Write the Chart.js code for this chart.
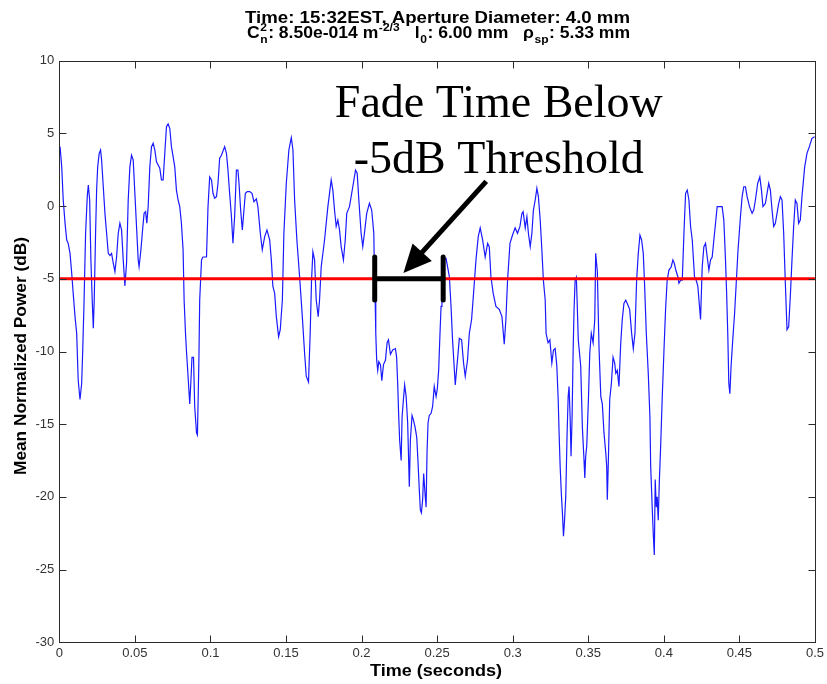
<!DOCTYPE html>
<html>
<head>
<meta charset="utf-8">
<script src="https://cdn.jsdelivr.net/npm/chart.js@4.4.0/dist/chart.umd.min.js"></script>
<style>
  html, body { margin: 0; padding: 0; background: #fff; }
  canvas { display: block; }
</style>
</head>
<body>
<canvas id="chart" width="827" height="684"></canvas>
<script>
// time axis (seconds)
const timeSec = [
  0.0005, 0.0016, 0.0026, 0.0038, 0.0049, 0.0059, 0.0071, 0.0082, 0.0092, 0.0104,
  0.0115, 0.0125, 0.0137, 0.0148, 0.0155, 0.0163, 0.0174, 0.0185, 0.0192, 0.0201,
  0.0209, 0.0218, 0.0225, 0.0231, 0.0240, 0.0247, 0.0254, 0.0264, 0.0273, 0.0280,
  0.0291, 0.0302, 0.0313, 0.0324, 0.0335, 0.0346, 0.0357, 0.0368, 0.0379, 0.0390,
  0.0401, 0.0412, 0.0423, 0.0434, 0.0445, 0.0456, 0.0467, 0.0478, 0.0489, 0.0500,
  0.0511, 0.0522, 0.0528, 0.0540, 0.0551, 0.0561, 0.0571, 0.0579, 0.0588, 0.0599,
  0.0610, 0.0621, 0.0632, 0.0643, 0.0654, 0.0665, 0.0676, 0.0687, 0.0698, 0.0709,
  0.0720, 0.0731, 0.0742, 0.0753, 0.0764, 0.0775, 0.0786, 0.0797, 0.0808, 0.0819,
  0.0826, 0.0835, 0.0841, 0.0852, 0.0863, 0.0870, 0.0878, 0.0888, 0.0896, 0.0908,
  0.0914, 0.0923, 0.0929, 0.0941, 0.0951, 0.0974, 0.0984, 0.0995, 0.1007, 0.1017,
  0.1028, 0.1040, 0.1050, 0.1061, 0.1073, 0.1094, 0.1106, 0.1116, 0.1127, 0.1139,
  0.1149, 0.1160, 0.1172, 0.1182, 0.1189, 0.1200, 0.1211, 0.1220, 0.1231, 0.1244,
  0.1260, 0.1275, 0.1288, 0.1304, 0.1314, 0.1330, 0.1343, 0.1359, 0.1374, 0.1392,
  0.1403, 0.1413, 0.1425, 0.1436, 0.1451, 0.1462, 0.1476, 0.1486, 0.1502, 0.1519,
  0.1535, 0.1546, 0.1557, 0.1572, 0.1590, 0.1608, 0.1623, 0.1634, 0.1649, 0.1660,
  0.1669, 0.1678, 0.1689, 0.1700, 0.1713, 0.1722, 0.1733, 0.1755, 0.1777, 0.1788,
  0.1799, 0.1810, 0.1821, 0.1832, 0.1843, 0.1854, 0.1865, 0.1880, 0.1892, 0.1902,
  0.1920, 0.1942, 0.1960, 0.1971, 0.1982, 0.1997, 0.2008, 0.2019, 0.2034, 0.2052,
  0.2067, 0.2081, 0.2085, 0.2090, 0.2094, 0.2100, 0.2107, 0.2114, 0.2125, 0.2134,
  0.2145, 0.2158, 0.2169, 0.2178, 0.2191, 0.2206, 0.2224, 0.2232, 0.2239, 0.2246,
  0.2252, 0.2262, 0.2268, 0.2277, 0.2285, 0.2295, 0.2305, 0.2316, 0.2323, 0.2334,
  0.2343, 0.2354, 0.2365, 0.2374, 0.2382, 0.2389, 0.2396, 0.2404, 0.2411, 0.2420,
  0.2427, 0.2433, 0.2440, 0.2448, 0.2460, 0.2470, 0.2481, 0.2493, 0.2501, 0.2510,
  0.2519, 0.2526, 0.2532, 0.2536, 0.2559, 0.2581, 0.2592, 0.2602, 0.2620, 0.2631,
  0.2647, 0.2662, 0.2675, 0.2686, 0.2701, 0.2713, 0.2728, 0.2741, 0.2757, 0.2772,
  0.2785, 0.2801, 0.2818, 0.2834, 0.2845, 0.2856, 0.2871, 0.2889, 0.2911, 0.2929,
  0.2944, 0.2955, 0.2966, 0.2982, 0.2999, 0.3016, 0.3032, 0.3048, 0.3061, 0.3069,
  0.3083, 0.3094, 0.3104, 0.3116, 0.3127, 0.3137, 0.3149, 0.3160, 0.3170, 0.3182,
  0.3193, 0.3203, 0.3215, 0.3221, 0.3234, 0.3246, 0.3259, 0.3270, 0.3281, 0.3292,
  0.3301, 0.3307, 0.3314, 0.3322, 0.3329, 0.3336, 0.3342, 0.3351, 0.3360, 0.3367,
  0.3373, 0.3380, 0.3386, 0.3393, 0.3400, 0.3406, 0.3413, 0.3421, 0.3426, 0.3434,
  0.3450, 0.3461, 0.3472, 0.3477, 0.3483, 0.3490, 0.3501, 0.3510, 0.3520, 0.3532,
  0.3543, 0.3549, 0.3560, 0.3571, 0.3583, 0.3593, 0.3604, 0.3616, 0.3622, 0.3626,
  0.3633, 0.3642, 0.3653, 0.3664, 0.3675, 0.3682, 0.3692, 0.3703, 0.3715, 0.3725,
  0.3736, 0.3748, 0.3758, 0.3774, 0.3787, 0.3798, 0.3809, 0.3820, 0.3831, 0.3842,
  0.3853, 0.3864, 0.3873, 0.3884, 0.3897, 0.3908, 0.3913, 0.3923, 0.3930, 0.3937,
  0.3943, 0.3950, 0.3956, 0.3963, 0.3970, 0.3979, 0.3989, 0.4001, 0.4012, 0.4022,
  0.4034, 0.4049, 0.4060, 0.4069, 0.4082, 0.4093, 0.4100, 0.4111, 0.4122, 0.4133,
  0.4144, 0.4155, 0.4166, 0.4177, 0.4188, 0.4203, 0.4214, 0.4225, 0.4236, 0.4243,
  0.4254, 0.4265, 0.4276, 0.4287, 0.4298, 0.4309, 0.4320, 0.4331, 0.4342, 0.4353,
  0.4369, 0.4386, 0.4397, 0.4408, 0.4415, 0.4423, 0.4430, 0.4437, 0.4445, 0.4456,
  0.4468, 0.4478, 0.4491, 0.4507, 0.4518, 0.4529, 0.4540, 0.4551, 0.4567, 0.4584,
  0.4595, 0.4606, 0.4621, 0.4635, 0.4646, 0.4656, 0.4672, 0.4683, 0.4694, 0.4705,
  0.4716, 0.4727, 0.4738, 0.4749, 0.4760, 0.4771, 0.4782, 0.4793, 0.4804, 0.4815,
  0.4826, 0.4837, 0.4848, 0.4859, 0.4870, 0.4881, 0.4892, 0.4903, 0.4914, 0.4932,
  0.4947, 0.4963, 0.4980, 0.4998
];

// mean normalized power (dB)
const powerDb = [
  4.09, 2.7, 0.42, -1.17, -2.33, -2.56, -3.25, -4.6, -6.0, -7.6,
  -8.75, -11.96, -13.3, -12.2, -9.9, -6.9, -1.87, 0.65, 1.45, 0.42,
  -3.7, -6.5, -8.4, -6.5, -1.87, 1.1, 2.7, 3.63, 3.86, 3.17,
  1.33, -0.5, -1.87, -3.25, -3.4, -3.25, -3.93, -4.5, -3.5, -1.87,
  -1.18, -1.64, -3.7, -5.5, -3.93, 0.42, 2.7, 3.5, 3.17, 0.88,
  -1.4, -3.7, -4.17, -3.0, -1.64, -0.5, -0.38, -1.18, -0.04, 2.7,
  4.09, 4.32, 3.86, 3.05, 2.83, 2.6, 1.8, 1.8, 3.63, 5.46,
  5.65, 5.35, 4.09, 3.4, 2.7, 1.1, 0.42, -0.04, -1.18, -3.0,
  -6.5, -8.75, -9.9, -11.7, -13.6, -12.2, -10.4, -10.4, -13.8, -15.6,
  -15.74, -11.0, -6.46, -3.7, -3.5, -3.5, -0.04, 2.0, 1.8, 0.88,
  0.54, 0.65, 1.57, 3.29, 3.5, 4.09, 3.63, 2.48, 0.88, -0.73,
  -2.56, -0.73, 2.48, 2.48, 1.57, -0.27, -1.64, -0.5, 0.88, 1.0,
  1.0, 0.88, 0.3, 0.5, -0.04, -1.87, -3.0, -2.1, -1.64, -2.33,
  -3.7, -5.5, -6.0, -7.6, -8.98, -8.5, -6.46, -1.87, 1.57, 3.86,
  4.7, 3.86, 0.42, -2.33, -4.86, -7.6, -10.1, -11.7, -12.1, -8.75,
  -5.1, -3.14, -3.7, -6.46, -7.6, -6.46, -4.17, -2.33, -0.04, 0.88,
  1.8, 1.1, -0.27, -1.4, -0.96, -1.64, -2.79, -3.7, -2.33, -0.5,
  -0.04, 1.33, 2.48, 2.26, 0.42, -1.87, -2.79, -1.87, -0.5, 0.19,
  -0.27, -1.87, -4.62, -6.46, -8.75, -10.6, -11.3, -10.7, -10.9, -12.0,
  -10.9, -10.6, -9.4, -9.2, -10.2, -9.9, -9.8, -10.4, -12.2, -14.5,
  -16.1, -17.5, -14.5, -13.3, -12.3, -13.1, -14.9, -19.3, -16.1, -14.4,
  -14.7, -15.2, -15.9, -17.7, -19.5, -20.9, -21.1, -20.2, -18.4, -19.8,
  -20.7, -17.0, -14.9, -14.4, -14.25, -13.8, -12.4, -13.1, -12.6, -11.3,
  -8.75, -6.9, -6.46, -3.7, -3.6, -4.86, -6.9, -9.2, -12.3, -11.0,
  -9.1, -9.2, -10.8, -11.7, -10.6, -8.75, -7.8, -6.0, -3.7, -2.1,
  -1.5, -2.33, -3.5, -2.56, -2.79, -4.86, -6.0, -6.9, -7.1, -7.6,
  -9.5, -7.8, -5.1, -2.56, -1.99, -1.5, -1.87, -1.4, -0.5, -0.38,
  -1.5, -0.73, -1.87, -2.79, -1.87, -0.27, 0.42, 1.22, 0.65, -0.96,
  -3.0, -5.1, -6.46, -8.75, -9.4, -9.2, -10.8, -9.9, -9.8, -11.0,
  -13.3, -15.6, -17.9, -19.8, -21.1, -22.7, -21.8, -20.0, -15.6, -13.1,
  -12.4, -14.5, -17.2, -14.5, -9.9, -7.1, -5.1, -4.9, -6.46, -9.2,
  -11.0, -15.2, -17.5, -18.7, -17.2, -16.5, -13.3, -10.1, -8.75, -9.4,
  -7.8, -3.25, -4.5, -9.7, -13.1, -13.6, -15.6, -17.0, -17.9, -20.2,
  -17.5, -13.3, -12.2, -10.4, -10.8, -11.5, -11.3, -12.4, -9.4, -7.8,
  -6.7, -6.46, -6.7, -7.1, -8.75, -9.8, -8.75, -5.1, -3.25, -1.99,
  -2.33, -3.25, -5.5, -8.75, -11.5, -14.5, -17.9, -20.7, -22.5, -24.0,
  -18.8, -20.7, -20.0, -21.6, -19.0, -16.5, -13.3, -9.9, -7.0, -5.1,
  -4.4, -4.17, -3.7, -3.93, -4.5, -4.86, -5.3, -5.1, -5.1, -1.87,
  0.88, 1.1, 0.42, -1.4, -2.33, -4.86, -5.1, -5.5, -6.9, -7.8,
  -4.17, -2.79, -2.56, -3.5, -4.4, -3.7, -3.5, -2.33, -1.18, -0.04,
  -0.04, -0.04, -0.96, -3.7, -5.8, -8.75, -12.2, -12.9, -11.0, -9.2,
  -7.4, -5.5, -3.0, -0.73, 0.65, 1.33, 1.33, 0.65, -0.04, -0.5,
  -0.27, 0.42, 1.57, 2.0, 1.1, -0.04, 0.19, 0.88, 1.57, 1.1,
  -0.27, -1.4, -1.18, -0.5, 0.19, 0.65, 0.42, -1.87, -5.3, -8.5,
  -8.3, -6.2, -3.7, -1.4, 0.42, 0.19, -1.18, -0.96, 0.65, 2.7,
  3.63, 4.09, 4.66, 4.77
];

const xTicks = [0, 0.05, 0.1, 0.15, 0.2, 0.25, 0.3, 0.35, 0.4, 0.45, 0.5];
const xTickLabels = ['0', '0.05', '0.1', '0.15', '0.2', '0.25', '0.3', '0.35', '0.4', '0.45', '0.5'];
const yTicks = [-30, -25, -20, -15, -10, -5, 0, 5, 10];
const yTickLabels = ['-30', '-25', '-20', '-15', '-10', '-5', '0', '5', '10'];

const threshold = -5;       // dB
const fadeStart = 0.2087;   // s
const fadeEnd = 0.2540;     // s
const arrowFrom = [0.2825, 1.7];
const arrowTo = [0.2277, -4.6];

const SANS = '"Liberation Sans", Arial, Helvetica, sans-serif';
const SERIF = '"Liberation Serif", "Times New Roman", serif';

// draw text squeezed/stretched to a given width (the matlab export uses a wide face)
function fitText(ctx, text, cx, cy, width) {
  const w = ctx.measureText(text).width;
  ctx.save();
  ctx.translate(cx, cy);
  ctx.scale(width / w, 1);
  ctx.textAlign = 'center';
  ctx.fillText(text, 0, 0);
  ctx.restore();
}

function drawRich(ctx, pieces, cx, base, target) {
  const big = 'bold 16px ' + SANS, small = 'bold 11px ' + SANS;
  const widths = pieces.map(p => {
    if (p.t) { ctx.font = big; return ctx.measureText(p.t).width; }
    ctx.font = small;
    return Math.max(p.sup ? ctx.measureText(p.sup).width : 0, p.sub ? ctx.measureText(p.sub).width : 0) + 1;
  });
  const total = widths.reduce((a, b) => a + b, 0);
  ctx.save();
  ctx.translate(cx - target / 2, base);
  ctx.scale(target / total, 1);
  ctx.textAlign = 'left';
  let px = 0;
  pieces.forEach((p, i) => {
    if (p.t) { ctx.font = big; ctx.fillText(p.t, px, 0); }
    else {
      ctx.font = small;
      if (p.sup) ctx.fillText(p.sup, px + 0.5, -7);
      if (p.sub) ctx.fillText(p.sub, px + 0.5, 5.5);
    }
    px += widths[i];
  });
  ctx.restore();
}

const matlabAxes = {
  id: 'matlabAxes',
  afterDatasetsDraw(chart) {
    const { ctx, scales: { x, y } } = chart;
    ctx.save();
    ctx.strokeStyle = '#000';
    ctx.fillStyle = '#000';
    ctx.lineWidth = 5;

    // fade bracket on the threshold line
    const x0 = x.getPixelForValue(fadeStart);
    const x1 = x.getPixelForValue(fadeEnd);
    const yT = y.getPixelForValue(threshold);
    ctx.lineCap = 'butt';
    ctx.beginPath();
    ctx.moveTo(x0, yT);
    ctx.lineTo(x1, yT);
    ctx.stroke();
    ctx.lineCap = 'round';
    [x0, x1].forEach(px => {
      ctx.beginPath();
      ctx.moveTo(px, y.getPixelForValue(threshold + 1.5));
      ctx.lineTo(px, y.getPixelForValue(threshold - 1.45));
      ctx.stroke();
    });

    // arrow
    const ax0 = x.getPixelForValue(arrowFrom[0]), ay0 = y.getPixelForValue(arrowFrom[1]);
    const ax1 = x.getPixelForValue(arrowTo[0]), ay1 = y.getPixelForValue(arrowTo[1]);
    const ang = Math.atan2(ay1 - ay0, ax1 - ax0);
    const headLen = 28, headW = 13;
    const bx = ax1 - headLen * Math.cos(ang), by = ay1 - headLen * Math.sin(ang);
    ctx.lineCap = 'butt';
    ctx.beginPath();
    ctx.moveTo(ax0, ay0);
    ctx.lineTo(bx + 2 * Math.cos(ang), by + 2 * Math.sin(ang));
    ctx.stroke();
    ctx.beginPath();
    ctx.moveTo(ax1, ay1);
    ctx.lineTo(bx + headW * Math.sin(ang), by - headW * Math.cos(ang));
    ctx.lineTo(bx - headW * Math.sin(ang), by + headW * Math.cos(ang));
    ctx.closePath();
    ctx.fill();
    ctx.restore();
  },
  afterDraw(chart) {
    const { ctx, scales: { x, y } } = chart;
    const L = Math.round(x.left) + 0.5, R = Math.round(x.right) + 0.5;
    const T = Math.round(y.top) + 0.5, B = Math.round(y.bottom) + 0.5;
    ctx.save();

    // box + inward ticks
    ctx.strokeStyle = '#2b2b2b';
    ctx.lineWidth = 1;
    ctx.strokeRect(L, T, R - L, B - T);
    const tl = 7;
    ctx.beginPath();
    xTicks.forEach(v => {
      const px = Math.round(x.getPixelForValue(v)) + 0.5;
      ctx.moveTo(px, B); ctx.lineTo(px, B - tl);
      ctx.moveTo(px, T); ctx.lineTo(px, T + tl);
    });
    yTicks.forEach(v => {
      const py = Math.round(y.getPixelForValue(v)) + 0.5;
      ctx.moveTo(L, py); ctx.lineTo(L + tl, py);
      ctx.moveTo(R, py); ctx.lineTo(R - tl, py);
    });
    ctx.stroke();

    // annotation text
    ctx.fillStyle = '#000';
    ctx.textAlign = 'center';
    ctx.textBaseline = 'alphabetic';
    ctx.font = '46px ' + SERIF;
    const tx = x.getPixelForValue(0.2908);
    ctx.fillText('Fade Time Below', tx, y.getPixelForValue(6.13));
    ctx.fillText('-5dB Threshold', tx, y.getPixelForValue(2.28));

    // axis titles
    ctx.font = 'bold 16px ' + SANS;
    ctx.textBaseline = 'middle';
    fitText(ctx, 'Time (seconds)', 436, 672, 132);
    ctx.save();
    ctx.translate(21.5, 356);
    ctx.rotate(-Math.PI / 2);
    fitText(ctx, 'Mean Normalized Power (dB)', 0, 0, 238);
    ctx.restore();

    // two-line title
    ctx.textBaseline = 'alphabetic';
    ctx.font = 'bold 16px ' + SANS;
    fitText(ctx, 'Time: 15:32EST, Aperture Diameter: 4.0 mm', 437.5, 22.7, 385);
    drawRich(ctx, [
      { t: 'C' },
      { sup: '2', sub: 'n' },
      { t: ': 8.50e-014 m' },
      { sup: '-2/3' },
      { t: '   l' },
      { sub: '0' },
      { t: ': 6.00 mm   \u03c1' },
      { sub: 'sp' },
      { t: ': 5.33 mm' }
    ], 438.5, 37.5, 383);
    ctx.restore();
  }
};

const points = timeSec.map((t, i) => ({ x: t, y: powerDb[i] }));

new Chart(document.getElementById('chart'), {
  type: 'line',
  data: {
    datasets: [
      {
        data: [{ x: 0, y: threshold }, { x: 0.5, y: threshold }],
        borderColor: '#ff0000',
        borderWidth: 3,
        pointRadius: 0,
        order: 0
      },
      {
        data: points,
        borderColor: '#1a1aff',
        borderWidth: 1.2,
        pointRadius: 0,
        tension: 0,
        order: 1
      }
    ]
  },
  options: {
    responsive: false,
    animation: false,
    devicePixelRatio: 1,
    layout: { padding: { left: 0, top: 60.7, right: 10.7, bottom: 0 } },
    plugins: { legend: { display: false }, tooltip: { enabled: false } },
    scales: {
      x: {
        type: 'linear',
        min: 0,
        max: 0.5,
        grid: { display: false, drawTicks: false },
        border: { display: false },
        afterFit: s => { s.height = 41.7; },
        afterBuildTicks: s => { s.ticks = xTicks.map(v => ({ value: v })); },
        ticks: {
          padding: 3,
          maxRotation: 0,
          autoSkip: false,
          color: '#333',
          font: { family: SANS, size: 13 },
          callback: (v, i) => xTickLabels[i]
        }
      },
      y: {
        type: 'linear',
        min: -30,
        max: 10,
        grid: { display: false, drawTicks: false },
        border: { display: false },
        afterFit: s => { s.width = 59.3; },
        afterBuildTicks: s => { s.ticks = yTicks.map(v => ({ value: v })); },
        ticks: {
          padding: 5,
          autoSkip: false,
          color: '#333',
          font: { family: SANS, size: 13 },
          callback: (v, i) => yTickLabels[i]
        }
      }
    }
  },
  plugins: [matlabAxes]
});
</script>
</body>
</html>
